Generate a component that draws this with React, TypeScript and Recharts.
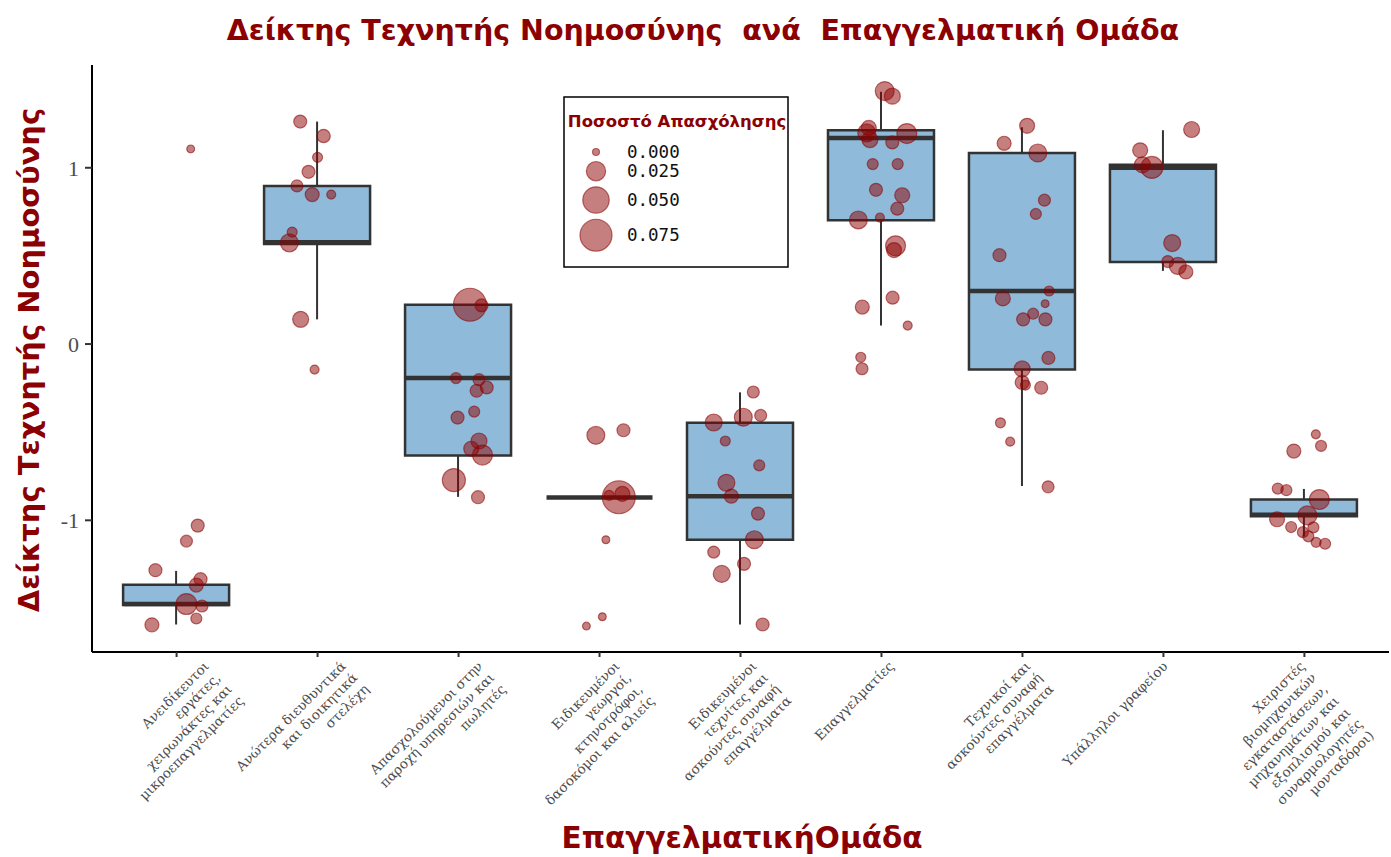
import React from 'react';
import { ComposedChart, Bar, Scatter, XAxis, YAxis, ZAxis } from 'recharts';

// occupational groups, wrapped as in the original axis
const categoryLines = [
  ['Ανειδίκευτοι', 'εργάτες,', 'χειρωνάκτες και', 'μικροεπαγγελματίες'],
  ['Ανώτερα διευθυντικά', 'και διοικητικά', 'στελέχη'],
  ['Απασχολούμενοι στην', 'παροχή υπηρεσιών και', 'πωλητές'],
  ['Ειδικευμένοι', 'γεωργοί,', 'κτηνοτρόφοι,', 'δασοκόμοι και αλιείς'],
  ['Ειδικευμένοι', 'τεχνίτες και', 'ασκούντες συναφή', 'επαγγέλματα'],
  ['Επαγγελματίες'],
  ['Τεχνικοί και', 'ασκούντες συναφή', 'επαγγέλματα'],
  ['Υπάλληλοι γραφείου'],
  ['Χειριστές', 'βιομηχανικών', 'εγκαταστάσεων,', 'μηχανημάτων και', 'εξοπλισμού και', 'συναρμολογητές', 'μονταδόροι)'],
];

// box statistics per group
const q1 = [-1.48, 0.568, -0.632, -0.87, -1.11, 0.702, -0.145, 0.466, -0.977];
const median = [-1.475, 0.578, -0.193, -0.87, -0.863, 1.169, 0.301, 1.0, -0.968];
const q3 = [-1.366, 0.897, 0.223, -0.87, -0.446, 1.213, 1.084, 1.017, -0.882];
const whiskerLow = [-1.591, 0.14, -0.867, -0.87, -1.591, 0.105, -0.806, 0.415, -1.091];
const whiskerHigh = [-1.287, 1.262, 0.223, -0.87, -0.274, 1.431, 1.23, 1.213, -0.822];

// jittered points: [jitter, index value, employment share]
const points1 = [
  [0.1, 1.107, 0.001], [0.15, -1.03, 0.0093], [0.07, -1.118, 0.0073], [-0.15, -1.283, 0.0093],
  [0.17, -1.334, 0.0093], [0.14, -1.367, 0.0114], [0.07, -1.475, 0.03], [0.18, -1.486, 0.0073],
  [0.14, -1.557, 0.0056], [-0.175, -1.593, 0.0114],
];
const points2 = [
  [-0.123, 1.262, 0.0093], [0.043, 1.18, 0.01], [0, 1.059, 0.004], [-0.064, 0.977, 0.0093],
  [-0.146, 0.897, 0.0073], [-0.038, 0.848, 0.0114], [0.097, 0.848, 0.0025], [-0.18, 0.635, 0.004],
  [-0.2, 0.574, 0.021], [-0.12, 0.14, 0.016], [-0.021, -0.145, 0.0025],
];
const points3 = [
  [0.081, 0.223, 0.08], [0.163, 0.219, 0.0093], [-0.018, -0.193, 0.0056], [0.145, -0.202, 0.0073],
  [0.2, -0.246, 0.0093], [0.128, -0.265, 0.0093], [0.111, -0.383, 0.0056], [-0.007, -0.417, 0.0093],
  [0.145, -0.55, 0.016], [0.09, -0.594, 0.0136], [0.17, -0.63, 0.027], [-0.033, -0.772, 0.037],
  [0.138, -0.869, 0.0093],
];
const points4 = [
  [-0.026, -0.518, 0.021], [0.17, -0.489, 0.0093], [0.137, -0.869, 0.08], [0.162, -0.85, 0.0136],
  [0.068, -0.858, 0.004], [0.045, -1.11, 0.001], [0.02, -1.547, 0.001], [-0.093, -1.6, 0.001],
];
const points5 = [
  [0.091, -0.272, 0.0073], [-0.19, -0.445, 0.0185], [0.02, -0.415, 0.021], [0.143, -0.405, 0.0073],
  [-0.108, -0.55, 0.004], [0.133, -0.688, 0.0056], [-0.1, -0.787, 0.0185], [-0.065, -0.863, 0.0114],
  [0.124, -0.962, 0.0093], [0.098, -1.11, 0.021], [-0.19, -1.18, 0.0073], [0.025, -1.247, 0.0093],
  [-0.133, -1.304, 0.0185], [0.157, -1.591, 0.0093],
];
const points6 = [
  [0.023, 1.435, 0.024], [0.077, 1.406, 0.016], [-0.09, 1.226, 0.0136], [-0.105, 1.198, 0.021],
  [-0.082, 1.16, 0.016], [0.077, 1.144, 0.0093], [0.18, 1.194, 0.027], [-0.062, 1.021, 0.0056],
  [0.115, 1.021, 0.0056], [-0.039, 0.875, 0.0093], [0.147, 0.844, 0.0136], [0.112, 0.768, 0.0093],
  [-0.011, 0.717, 0.0025], [-0.164, 0.704, 0.021], [0.1, 0.557, 0.027], [0.089, 0.533, 0.0136],
  [0.079, 0.263, 0.0093], [-0.136, 0.21, 0.0114], [0.186, 0.105, 0.0025], [-0.147, -0.075, 0.004],
  [-0.138, -0.14, 0.0073],
];
const points7 = [
  [0.033, 1.238, 0.0136], [-0.13, 1.139, 0.0114], [0.109, 1.084, 0.021], [0.156, 0.816, 0.0073],
  [0.095, 0.738, 0.0056], [-0.163, 0.504, 0.0093], [0.189, 0.301, 0.004], [-0.139, 0.259, 0.0136],
  [0.161, 0.229, 0.001], [0.076, 0.172, 0.0056], [0.005, 0.14, 0.0093], [0.163, 0.14, 0.0093],
  [0.184, -0.079, 0.0093], [-0.002, -0.141, 0.016], [-0.002, -0.218, 0.0114], [0.021, -0.233, 0.004],
  [0.133, -0.248, 0.0093], [-0.156, -0.447, 0.004], [-0.087, -0.554, 0.0025], [0.182, -0.81, 0.0073],
];
const points8 = [
  [0.2, 1.217, 0.016], [-0.165, 1.099, 0.0136], [-0.149, 1.017, 0.016], [-0.082, 1.002, 0.0335],
  [0.062, 0.573, 0.0185], [0.031, 0.468, 0.0073], [0.102, 0.443, 0.0185], [0.159, 0.409, 0.0114],
];
const points9 = [
  [0.081, -0.512, 0.0025], [0.118, -0.578, 0.0056], [-0.075, -0.607, 0.0114], [-0.189, -0.82, 0.0056],
  [-0.128, -0.829, 0.0056], [0.106, -0.882, 0.027], [0.021, -0.972, 0.024], [-0.194, -0.994, 0.0136],
  [-0.094, -1.038, 0.0056], [0.064, -1.04, 0.0056], [-0.011, -1.067, 0.0056], [0.028, -1.091, 0.0056],
  [0.083, -1.125, 0.004], [0.147, -1.133, 0.0056],
];
const pointGroups = [points1, points2, points3, points4, points5, points6, points7, points8, points9];

const xTicks = [1, 2, 3, 4, 5, 6, 7, 8, 9];
const yTicks = [-1, 0, 1];
const legendValues = [0, 0.025, 0.05, 0.075];

const RED = '#8b0000';
const BOX_W = 106;
const X_DOMAIN = [0.4, 9.6];
const SIZE_DOMAIN = [0, 0.08];
const SIZE_RANGE = [38, 855];
const SANS_BOLD = "'DejaVu Sans', sans-serif";

const boxData = categoryLines.map((_, i) => ({
  x: i + 1,
  box: [q1[i], q3[i]],
  whisker: [whiskerLow[i], whiskerHigh[i]],
}));
const medianData = median.map((m, i) => ({ x: i + 1, y: m }));
const pointData = pointGroups.flatMap((g, i) => g.map(([j, v, s]) => ({ x: i + 1 + j, y: v, z: s })));

const legendR = (v: number) =>
  Math.sqrt((SIZE_RANGE[0] + ((SIZE_RANGE[1] - SIZE_RANGE[0]) * v) / SIZE_DOMAIN[1]) / Math.PI);

function CategoryTick(props: any) {
  const { x, y, payload } = props;
  const idx = payload.value - 1;
  const lines = categoryLines[idx] || [];
  // labels drift slightly left of their ticks from left to right, as in the source
  const dx = 26 - 4 * idx;
  return (
    <g transform={`translate(${x + dx},${y + 1}) rotate(-45)`}>
      {lines.map((l, i) => (
        <text key={i} x={0} y={10 + i * 16.3} textAnchor="end" fontSize={13.5}
          fontFamily="'DejaVu Serif', serif" fill="#4d4d4d">{l}</text>
      ))}
    </g>
  );
}

function MedianLine(props: any) {
  const { cx, cy } = props;
  return <line x1={cx - BOX_W / 2} x2={cx + BOX_W / 2} y1={cy} y2={cy} stroke="#333333" strokeWidth={4.5} />;
}

export default function App() {
  let ly = 152 - legendR(legendValues[0]);
  const legendRows = legendValues.map((v) => {
    const r = legendR(v);
    const cy = ly + r;
    ly = cy + r + 6;
    return { v, r, cy };
  });

  return (
    <div style={{ position: 'absolute', left: 0, top: 0, width: 1391, height: 857, background: '#fff' }}>
      <ComposedChart width={1391} height={857} data={boxData}
        margin={{ top: 65, right: 2, bottom: 0, left: 12 }}>
        <XAxis xAxisId="main" dataKey="x" type="number" domain={X_DOMAIN} ticks={xTicks}
          height={205} tick={<CategoryTick />} tickSize={5} tickMargin={2} interval={0}
          axisLine={{ stroke: '#000', strokeWidth: 2 }} tickLine={{ stroke: '#333', strokeWidth: 2 }} allowDataOverflow />
        <XAxis xAxisId="whisk" dataKey="x" type="number" domain={X_DOMAIN} ticks={xTicks} height={0} hide allowDataOverflow />
        <XAxis xAxisId="boxes" dataKey="x" type="number" domain={X_DOMAIN} ticks={xTicks} height={0} hide allowDataOverflow />
        <YAxis dataKey="y" type="number" domain={[-1.747, 1.583]} ticks={yTicks} width={80} allowDataOverflow
          tickSize={7} tickMargin={6} tickFormatter={(v) => String(v)}
          tick={{ fontSize: 22, fontFamily: "'Liberation Serif', serif", fill: '#4d4d4d' }}
          axisLine={{ stroke: '#000', strokeWidth: 2 }} tickLine={{ stroke: '#333', strokeWidth: 2 }} />
        <ZAxis type="number" dataKey="z" domain={SIZE_DOMAIN} range={SIZE_RANGE} />
        <Bar xAxisId="whisk" dataKey="whisker" barSize={2} fill="#333333" isAnimationActive={false} />
        <Bar xAxisId="boxes" dataKey="box" barSize={BOX_W} fill="#8fbad9" stroke="#333333" strokeWidth={2.5}
          isAnimationActive={false} />
        <Scatter xAxisId="main" data={medianData} shape={<MedianLine />} isAnimationActive={false} />
        <Scatter xAxisId="main" data={pointData} fill={RED} fillOpacity={0.5} stroke={RED} strokeOpacity={0.55}
          strokeWidth={1.2} isAnimationActive={false} />
      </ComposedChart>

      <svg width={1391} height={857} style={{ position: 'absolute', left: 0, top: 0, pointerEvents: 'none' }}>
        <text x={703} y={40} textAnchor="middle" fontFamily={SANS_BOLD} fontWeight="bold" fontSize={28.5}
          fill={RED} style={{ whiteSpace: 'pre' }}>
          {'Δείκτης Τεχνητής Νοημοσύνης  ανά  Επαγγελματική Ομάδα'}
        </text>
        <text x={742} y={848} textAnchor="middle" fontFamily={SANS_BOLD} fontWeight="bold" fontSize={29.5}
          fill={RED}>ΕπαγγελματικήΟμάδα</text>
        <text transform="translate(39,360) rotate(-90)" textAnchor="middle" fontFamily={SANS_BOLD}
          fontWeight="bold" fontSize={29} fill={RED}>Δείκτης Τεχνητής Νοημοσύνης</text>

        <rect x={564} y={97} width={224} height={170} fill="#fff" stroke="#000" strokeWidth={1.5} />
        <text x={677} y={127} textAnchor="middle" fontFamily={SANS_BOLD} fontWeight="bold" fontSize={16.5}
          fill={RED}>Ποσοστό Απασχόλησης</text>
        {legendRows.map((row) => (
          <g key={row.v}>
            <circle cx={596} cy={row.cy} r={row.r} fill={RED} fillOpacity={0.5} stroke={RED} strokeOpacity={0.55}
              strokeWidth={1.2} />
            <text x={627} y={row.cy + 6} fontFamily="'DejaVu Sans Mono', monospace" fontSize={17.5} fill="#111">
              {row.v.toFixed(3)}
            </text>
          </g>
        ))}
      </svg>
    </div>
  );
}
